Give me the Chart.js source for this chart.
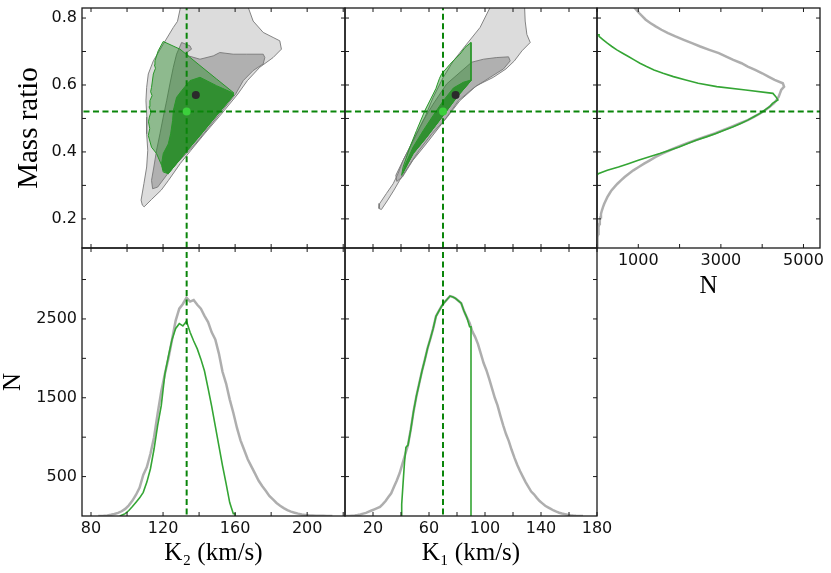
<!DOCTYPE html>
<html>
<head>
<meta charset="utf-8">
<script src="https://cdn.jsdelivr.net/npm/chart.js@4.4.1/dist/chart.umd.min.js"></script>
<style>
  html, body { margin: 0; padding: 0; background: #fff; }
  #wrap { position: relative; width: 831px; height: 573px; }
  #wrap canvas { position: absolute; left: 0; top: 0; }
</style>
</head>
<body>
<div id="wrap">
  <canvas id="tl" width="831" height="573"></canvas>
  <canvas id="tm" width="831" height="573"></canvas>
  <canvas id="tr" width="831" height="573"></canvas>
  <canvas id="bl" width="831" height="573"></canvas>
  <canvas id="bm" width="831" height="573"></canvas>
</div>
<script>
// ---- best-fit markers ----
const bestK2 = 133.1;
const bestK1 = 70;
const bestQ = 0.521;
const medK2 = 138.2, medK1 = 79, medQ = 0.570;

// ---- K2 histograms (bin left edges, counts) ----
const k2GreyBins = [84, 86, 88, 90, 92, 94, 96, 98, 100, 102, 104, 106, 108, 110, 112, 114, 116, 118, 120, 122,
  124, 126, 128, 130, 132, 134, 136, 138, 140, 142, 144, 146, 148, 150, 152, 154, 156, 158, 160, 162,
  164, 166, 168, 170, 172, 174, 176, 178, 180, 182, 184, 186, 188, 190, 192, 194, 196, 198, 200, 202,
  204, 206, 208, 210, 212];
const k2GreyCounts = [0, 3, 8, 15, 25, 40, 60, 90, 135, 195, 270, 360, 520, 620, 790, 1000, 1300, 1580, 1800, 2000,
  2240, 2480, 2630, 2690, 2770, 2720, 2740, 2680, 2630, 2540, 2460, 2330, 2240, 2060, 1830, 1680, 1480, 1310, 1120, 960,
  840, 720, 630, 540, 450, 380, 320, 255, 210, 165, 130, 100, 75, 55, 42, 30, 20, 14, 9, 6,
  4, 3, 2, 1, 0];
const k2GreenBins = [96, 98, 100, 102, 104, 106, 108, 110, 112, 114, 116, 118, 120, 122, 124, 126, 128, 130, 132, 134,
  136, 138, 140, 142, 144, 146, 148, 150, 152, 154, 156, 158];
const k2GreenCounts = [10, 30, 70, 120, 175, 230, 300, 430, 600, 850, 1150, 1400, 1800, 2030, 2240, 2380, 2440, 2410, 2470, 2330,
  2220, 2120, 1990, 1840, 1620, 1390, 1140, 890, 640, 410, 170, 30];

// ---- K1 histograms ----
const k1GreyBins = [0, 2, 4, 6, 8, 10, 12, 14, 16, 18, 20, 22, 24, 26, 28, 30, 32, 34, 36, 38,
  40, 42, 44, 46, 48, 50, 52, 54, 56, 58, 60, 62, 64, 66, 68, 70, 72, 74, 76, 78,
  80, 82, 84, 86, 88, 90, 92, 94, 96, 98, 100, 102, 104, 106, 108, 110, 112, 114, 116, 118,
  120, 122, 124, 126, 128, 130, 132, 134, 136, 138, 140, 142, 144, 146, 148, 150, 152, 154, 156, 158,
  160, 162, 164, 166, 168];
const k1GreyCounts = [0, 0, 3, 6, 12, 20, 30, 40, 55, 70, 85, 100, 115, 150, 190, 240, 288, 370, 450, 542,
  660, 780, 900, 1100, 1330, 1520, 1680, 1840, 1980, 2130, 2250, 2380, 2534, 2600, 2661, 2710, 2750, 2790, 2780, 2760,
  2730, 2700, 2600, 2520, 2450, 2340, 2270, 2180, 2060, 1940, 1850, 1740, 1620, 1500, 1400, 1270, 1150, 1040, 950, 840,
  740, 650, 570, 500, 430, 370, 310, 275, 230, 190, 160, 130, 110, 90, 70, 55, 42, 32, 24, 16,
  10, 6, 3, 1, 0];
const k1GreenBins = [40, 41, 42, 43, 44, 46, 48, 50, 52, 54, 56, 58, 60, 62, 64, 66, 68, 70, 72, 74,
  76, 78, 80, 82, 84, 86, 88];
const k1GreenCounts = [150, 420, 680, 870, 900, 1100, 1330, 1520, 1680, 1840, 1980, 2130, 2250, 2380, 2534, 2600, 2661, 2710, 2750, 2790,
  2780, 2760, 2730, 2700, 2600, 2520, 2400];

// ---- mass ratio histograms ----
const qGreyBins = [0.11, 0.12, 0.13, 0.14, 0.15, 0.16, 0.17, 0.18, 0.19, 0.20,
  0.21, 0.22, 0.23, 0.24, 0.25, 0.26, 0.27, 0.28, 0.29, 0.30,
  0.31, 0.32, 0.33, 0.34, 0.35, 0.36, 0.37, 0.38, 0.39, 0.40,
  0.41, 0.42, 0.43, 0.44, 0.45, 0.46, 0.47, 0.48, 0.49, 0.50,
  0.51, 0.52, 0.53, 0.54, 0.55, 0.56, 0.57, 0.58, 0.59, 0.60,
  0.61, 0.62, 0.63, 0.64, 0.65, 0.66, 0.67, 0.68, 0.69, 0.70,
  0.71, 0.72, 0.73, 0.74, 0.75, 0.76, 0.77, 0.78, 0.79, 0.80,
  0.81, 0.82, 0.83];
const qGreyCounts = [4, 8, 12, 18, 25, 32, 42, 55, 68, 82,
  96, 118, 145, 175, 212, 250, 300, 350, 420, 495,
  580, 670, 770, 880, 1010, 1140, 1280, 1420, 1580, 1760,
  1950, 2150, 2380, 2600, 2850, 3050, 3250, 3450, 3650, 3800,
  3950, 4080, 4180, 4280, 4350, 4400, 4430, 4460, 4530, 4500,
  4300, 4150, 4000, 3830, 3650, 3500, 3300, 3130, 2950, 2720,
  2500, 2300, 2100, 1900, 1720, 1560, 1420, 1290, 1180, 1100,
  1020, 950, 880];
const qGreenBins = [0.33, 0.34, 0.35, 0.36, 0.37, 0.38, 0.39, 0.40, 0.41, 0.42,
  0.43, 0.44, 0.45, 0.46, 0.47, 0.48, 0.49, 0.50, 0.51, 0.52,
  0.53, 0.54, 0.55, 0.56, 0.57, 0.58, 0.59, 0.60, 0.61, 0.62,
  0.63, 0.64, 0.65, 0.66, 0.67, 0.68, 0.69, 0.70, 0.71, 0.72,
  0.73, 0.74];
const qGreenCounts = [30, 250, 520, 760, 1000, 1250, 1520, 1760, 1990, 2200,
  2400, 2650, 2880, 3080, 3300, 3480, 3650, 3800, 3950, 4060,
  4180, 4250, 4380, 4330, 4260, 3600, 2900, 2450, 2150, 1850,
  1600, 1380, 1200, 1040, 900, 760, 620, 480, 360, 250,
  150, 50];

// ---- 2D credible regions, [K, q] vertices ----
const k2qOuter = [[130.8, 0.86], [128, 0.79], [125.7, 0.772], [120.1, 0.722], [114.6, 0.672], [111.8, 0.633],
  [110.9, 0.593], [110.5, 0.553], [111, 0.504], [110.9, 0.454], [111.5, 0.405], [110.9, 0.355], [109.4, 0.306],
  [107.8, 0.256], [108.5, 0.241], [109.5, 0.236], [113.6, 0.258], [119, 0.286], [123, 0.315], [129.5, 0.365],
  [135.5, 0.405], [143, 0.454], [152.5, 0.514], [161.5, 0.573], [166.8, 0.613], [173.7, 0.653], [181.1, 0.682],
  [185.7, 0.707], [184.8, 0.732], [181.1, 0.742], [175.6, 0.757], [170, 0.791], [165.4, 0.86], [130.8, 0.86]];
const k2qMid = [[130.3, 0.727], [134.9, 0.717], [135.8, 0.707], [133.1, 0.697], [134, 0.687], [140.5, 0.677],
  [147.9, 0.687], [151.5, 0.697], [158.9, 0.692], [166.3, 0.692], [175.6, 0.692], [176.5, 0.682], [175.6, 0.663],
  [170, 0.643], [164.5, 0.613], [160.3, 0.573], [153, 0.524], [145.5, 0.474], [138, 0.424], [131, 0.385],
  [124, 0.345], [117, 0.295], [114.2, 0.290], [113.6, 0.315], [114.9, 0.355], [116.4, 0.405], [118.3, 0.454],
  [120.1, 0.504], [122, 0.553], [123.8, 0.603], [125.7, 0.653], [127.5, 0.692], [130.3, 0.727]];
const k2qGreen68 = [[120.1, 0.730], [129.4, 0.707], [140.5, 0.658], [149.7, 0.618], [158.9, 0.578], [158.9, 0.568],
  [149.7, 0.509], [140.5, 0.449], [131.2, 0.390], [122.9, 0.335], [120.1, 0.340], [119.2, 0.360], [116.4, 0.395],
  [113.6, 0.414], [111.8, 0.449], [112.6, 0.47], [111.9, 0.49], [112.4, 0.504], [113.4, 0.52], [112.2, 0.535],
  [112.7, 0.553], [113.9, 0.568], [113.1, 0.58], [113.6, 0.593], [114.6, 0.633], [115.8, 0.65], [115.2, 0.66],
  [115.5, 0.672], [117.3, 0.702], [120.1, 0.730]];
const k2qGreen95 = [[130.3, 0.583], [134.9, 0.613], [140.5, 0.623], [149.7, 0.598], [158, 0.578], [158.9, 0.568],
  [149.7, 0.509], [140.5, 0.449], [131.2, 0.390], [122.9, 0.335], [120.1, 0.345], [119.2, 0.365], [120.1, 0.395],
  [122.9, 0.424], [124.2, 0.454], [125.3, 0.494], [125.7, 0.524], [127.5, 0.563], [130.3, 0.583]];

const k1qOuter = [[107, 0.86], [96.5, 0.772], [86.9, 0.722], [77.4, 0.672], [70.2, 0.623], [63, 0.563], [57.1, 0.504],
  [51.1, 0.454], [46.3, 0.414], [41.5, 0.375], [37.9, 0.335], [34.4, 0.305], [29.6, 0.276], [24.8, 0.246],
  [24.3, 0.231], [26, 0.228], [30.5, 0.256], [35, 0.286], [39, 0.315], [45, 0.355], [53, 0.405], [62, 0.454],
  [73, 0.504], [82, 0.553], [94, 0.598], [106, 0.623], [115, 0.648], [121, 0.672], [126.4, 0.702], [132.3, 0.727],
  [129.9, 0.751], [128.7, 0.791], [128, 0.86], [107, 0.86]];
const k1qMid = [[72.6, 0.603], [82.2, 0.638], [90.5, 0.668], [98.9, 0.677], [108.4, 0.682], [116.8, 0.684],
  [118, 0.672], [113.2, 0.648], [103.7, 0.623], [91.7, 0.591], [81, 0.553], [71, 0.494], [58, 0.424],
  [48.5, 0.375], [41, 0.325], [37, 0.312], [36.3, 0.330], [41.5, 0.375], [48.7, 0.434], [55.9, 0.494],
  [63, 0.543], [67.8, 0.573], [72.6, 0.603]];
const k1qGreen68 = [[90, 0.727], [90, 0.613], [79.8, 0.563], [70.2, 0.509], [58.3, 0.444], [48.7, 0.395],
  [40.4, 0.330], [41.5, 0.355], [46.3, 0.414], [51.1, 0.464], [57.1, 0.524], [63, 0.573], [65, 0.59], [65.8, 0.60],
  [67.5, 0.62], [69, 0.633], [75, 0.662], [78, 0.675], [82.1, 0.692], [85.7, 0.712], [90, 0.727]];
const k1qGreen95 = [[90, 0.615], [84.5, 0.608], [77.4, 0.591], [70.2, 0.553], [63, 0.509], [55.9, 0.464],
  [48.7, 0.415], [42.8, 0.360], [41.1, 0.335], [48.7, 0.395], [58.3, 0.444], [70.2, 0.509], [79.8, 0.563],
  [90, 0.613], [90, 0.615]];

// ---- axes: tick positions and labelled ticks ----
const k2Ticks = [80, 100, 120, 140, 160, 180, 200, 220];
const k2Labels = [80, 120, 160, 200];
const k1Ticks = [20, 40, 60, 80, 100, 120, 140, 160, 180];
const k1Labels = [20, 60, 100, 140, 180];
const qTicks = [0.2, 0.3, 0.4, 0.5, 0.6, 0.7, 0.8];
const qLabels = [0.2, 0.4, 0.6, 0.8];
const nTicks = [500, 1000, 1500, 2000, 2500, 3000];
const nLabels = [500, 1500, 2500];
const nqTicks = [1000, 2000, 3000, 4000, 5000];
const nqLabels = [1000, 3000, 5000];

// colours
const GREY_OUTER = 'rgba(150,150,150,0.33)';
const GREY_MID = 'rgba(125,125,125,0.45)';
const GREY_EDGE = 'rgba(120,120,120,0.9)';
const GREEN_68 = 'rgba(34,139,34,0.42)';
const GREEN_95 = 'rgba(34,139,34,0.82)';
const GREEN_EDGE = 'rgb(40,150,40)';
const DASH_GREEN = '#0a850a';
const HIST_GREY = 'rgba(160,160,160,0.85)';
const HIST_GREEN = '#34a534';

const TICK_LEN = 4;
const TICK_FONT = { family: 'DejaVu Sans', size: 16 };
const SERIF = 'Liberation Serif';

Chart.defaults.elements.point.radius = 0;
Chart.defaults.elements.line.tension = 0;

// inward ticks on all four sides + the box
const frameTicks = {
  id: 'frameTicks',
  afterDraw(chart) {
    const { ctx, chartArea: a } = chart;
    const sx = chart.scales.x, sy = chart.scales.y;
    ctx.save();
    ctx.strokeStyle = '#1a1a1a';
    ctx.lineWidth = 1;
    ctx.beginPath();
    sx.ticks.forEach(t => {
      const p = sx.getPixelForValue(t.value);
      ctx.moveTo(p, a.bottom); ctx.lineTo(p, a.bottom - TICK_LEN);
      ctx.moveTo(p, a.top); ctx.lineTo(p, a.top + TICK_LEN);
    });
    sy.ticks.forEach(t => {
      const p = sy.getPixelForValue(t.value);
      ctx.moveTo(a.left, p); ctx.lineTo(a.left + TICK_LEN, p);
      ctx.moveTo(a.right, p); ctx.lineTo(a.right - TICK_LEN, p);
    });
    ctx.stroke();
    ctx.lineWidth = 1.3;
    ctx.strokeRect(a.left, a.top, a.right - a.left, a.bottom - a.top);
    ctx.restore();
  }
};

function makeScale(position, ax) {
  const title = ax.title
    ? {
        display: true, text: ax.title, color: '#000',
        font: { family: SERIF, size: ax.titleSize || 25, lineHeight: 1 },
        padding: ax.titlePad
      }
    : { display: false };
  return {
    type: 'linear',
    position,
    min: ax.min,
    max: ax.max,
    border: { display: false },
    grid: { display: false, drawTicks: false },
    afterBuildTicks: s => { s.ticks = ax.ticks.map(v => ({ value: v })); },
    afterFit: s => {
      if (position === 'left') s.width = ax.size || 0;
      else s.height = ax.size || 0;
      // panels are placed exactly; no extra room for overhanging labels
      s.paddingTop = s.paddingBottom = s.paddingLeft = s.paddingRight = 0;
    },
    ticks: {
      display: ax.labels.length > 0,
      font: TICK_FONT,
      color: '#111',
      padding: position === 'left' ? 5 : 3,
      autoSkip: false,
      maxRotation: 0,
      callback: v => (ax.labels.includes(v) ? String(v) : '')
    },
    title
  };
}

function panel(id, rect, xAx, yAx, datasets) {
  const W = yAx.size || 0, H = xAx.size || 0;
  const n = datasets.length;
  datasets.forEach((d, i) => { d.order = n - i; });
  new Chart(document.getElementById(id), {
    type: 'line',
    data: { datasets },
    options: {
      responsive: false,
      animation: false,
      events: [],
      layout: { padding: { left: rect[0] - W, top: rect[1], right: 831 - rect[2], bottom: 573 - rect[3] - H } },
      plugins: { legend: { display: false }, tooltip: { enabled: false } },
      scales: { x: makeScale('bottom', xAx), y: makeScale('left', yAx) }
    },
    plugins: [frameTicks]
  });
}

function region(verts, fillColor, edgeColor) {
  return {
    data: verts.map(v => ({ x: v[0], y: v[1] })),
    fill: 'shape',
    backgroundColor: fillColor,
    borderColor: edgeColor,
    borderWidth: 1
  };
}

// histogram outline: through bin centres, closed at the outer edges
function outline(edges, counts, vertical, color, width) {
  const pts = [];
  const put = (pos, val) => pts.push(vertical ? { x: val, y: pos } : { x: pos, y: val });
  const last = edges.length - 1;
  const lastW = edges[last] - edges[last - 1];
  put(edges[0], 0);
  edges.forEach((e, i) => {
    const w = i < last ? edges[i + 1] - e : lastW;
    put(e + w / 2, counts[i]);
  });
  put(edges[last] + lastW, counts[last]);
  put(edges[last] + lastW, 0);
  return { data: pts, borderColor: color, borderWidth: width, fill: false };
}

function dashed(x0, y0, x1, y1) {
  return {
    data: [{ x: x0, y: y0 }, { x: x1, y: y1 }],
    borderColor: DASH_GREEN, borderWidth: 2, borderDash: [6, 3.5], fill: false
  };
}

function dot(x, y, color) {
  return {
    data: [{ x, y }], showLine: false,
    pointRadius: 4, pointBackgroundColor: color, pointBorderWidth: 0
  };
}

const qRange = { min: 0.113, max: 0.83 };
const k2Range = { min: 75, max: 221 };
const k1Range = { min: 0, max: 180 };
const nRange = { min: 0, max: 3400 };

// top-left: K2 vs q
panel('tl', [82, 8, 345, 248],
  { ...k2Range, ticks: k2Ticks, labels: [], size: 0 },
  { ...qRange, ticks: qTicks, labels: qLabels, size: 82, title: 'Mass ratio', titleSize: 29, titlePad: { top: 15, bottom: 0 } },
  [
    region(k2qOuter, GREY_OUTER, GREY_EDGE),
    region(k2qMid, GREY_MID, GREY_EDGE),
    region(k2qGreen68, GREEN_68, GREEN_EDGE),
    region(k2qGreen95, GREEN_95, GREEN_EDGE),
    dashed(60, bestQ, 240, bestQ),
    dashed(bestK2, 0, bestK2, 1),
    dot(medK2, medQ, '#2b2b2b'),
    dot(bestK2, bestQ, '#3ccf3c')
  ]);

// top-middle: K1 vs q
panel('tm', [345, 8, 597, 248],
  { ...k1Range, ticks: k1Ticks, labels: [], size: 0 },
  { ...qRange, ticks: qTicks, labels: [], size: 0 },
  [
    region(k1qOuter, GREY_OUTER, GREY_EDGE),
    region(k1qMid, GREY_MID, GREY_EDGE),
    region(k1qGreen68, GREEN_68, GREEN_EDGE),
    region(k1qGreen95, GREEN_95, GREEN_EDGE),
    dashed(-20, bestQ, 200, bestQ),
    dashed(bestK1, 0, bestK1, 1),
    dot(medK1, medQ, '#2b2b2b'),
    dot(bestK1, bestQ, '#3ccf3c')
  ]);

// top-right: q histogram, sideways
panel('tr', [597, 8, 820, 248],
  { min: 0, max: 5400, ticks: nqTicks, labels: nqLabels, size: 57, title: 'N', titlePad: { top: 0, bottom: 6 } },
  { ...qRange, ticks: qTicks, labels: [], size: 0 },
  [
    outline(qGreyBins, qGreyCounts, true, HIST_GREY, 2.5),
    outline(qGreenBins, qGreenCounts, true, HIST_GREEN, 1.6),
    dashed(-200, bestQ, 6000, bestQ)
  ]);

// bottom-left: K2 histogram
panel('bl', [82, 248, 345, 516],
  { ...k2Range, ticks: k2Ticks, labels: k2Labels, size: 57, title: 'K\u2082 (km/s)', titlePad: { top: 0, bottom: 7 } },
  { ...nRange, ticks: nTicks, labels: nLabels, size: 82, title: 'N', titlePad: { top: 1, bottom: 0 } },
  [
    outline(k2GreyBins, k2GreyCounts, false, HIST_GREY, 2.5),
    outline(k2GreenBins, k2GreenCounts, false, HIST_GREEN, 1.6),
    dashed(bestK2, -100, bestK2, 4000)
  ]);

// bottom-middle: K1 histogram
panel('bm', [345, 248, 597, 516],
  { ...k1Range, ticks: k1Ticks, labels: k1Labels, size: 57, title: 'K\u2081 (km/s)', titlePad: { top: 0, bottom: 7 } },
  { ...nRange, ticks: nTicks, labels: [], size: 0 },
  [
    outline(k1GreyBins, k1GreyCounts, false, HIST_GREY, 2.5),
    outline(k1GreenBins, k1GreenCounts, false, HIST_GREEN, 1.6),
    dashed(bestK1, -100, bestK1, 4000)
  ]);
</script>
</body>
</html>
